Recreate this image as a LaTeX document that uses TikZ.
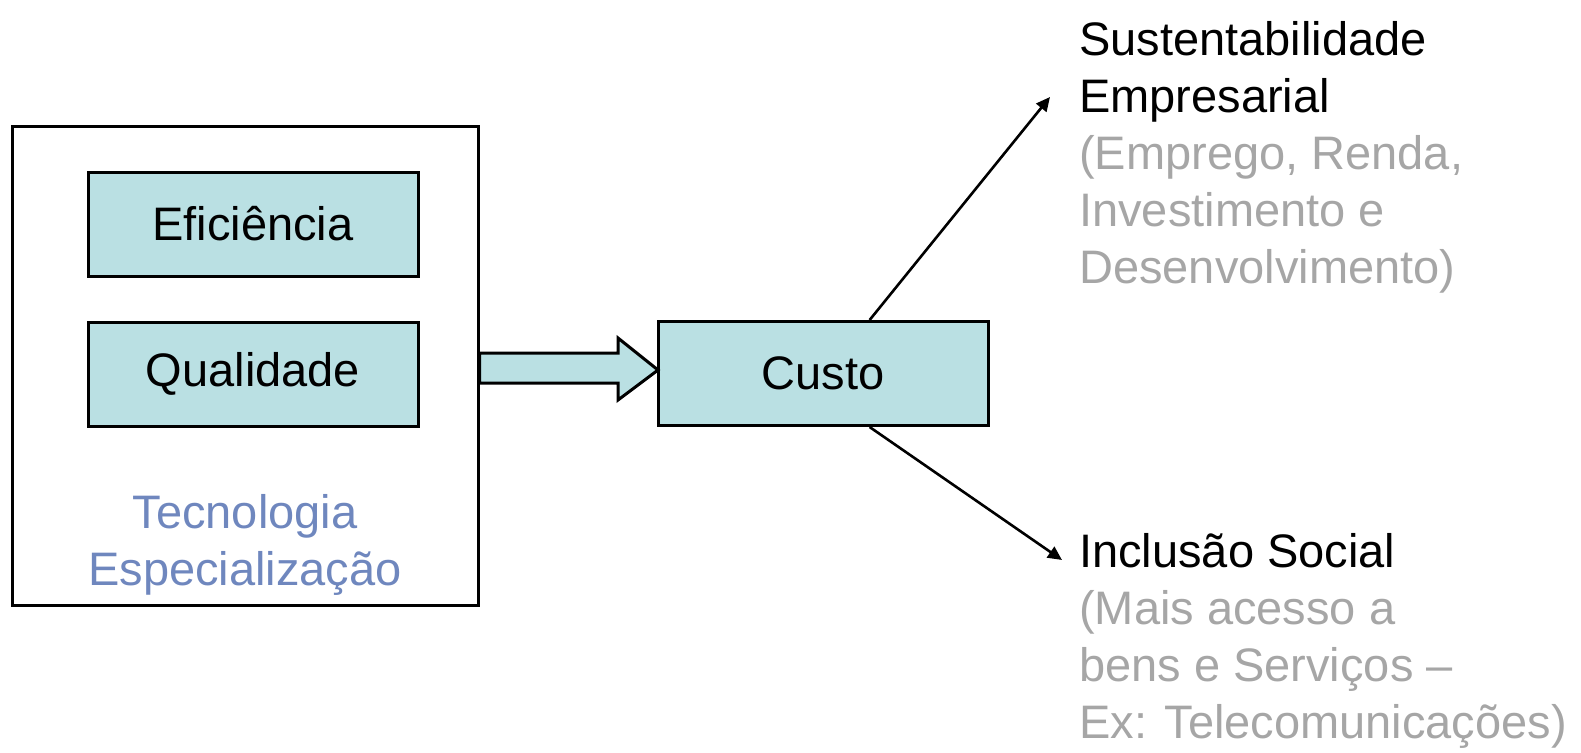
\documentclass[tikz,border=0pt]{standalone}
\usepackage{fontspec}
\setmainfont{Liberation Sans}
\usetikzlibrary{arrows.meta,calc}
\definecolor{boxfill}{HTML}{BAE0E3}
\definecolor{techblue}{HTML}{6F87BE}
\definecolor{txtgray}{HTML}{A6A6A6}
\begin{document}
\begin{tikzpicture}[x=1pt,y=-1pt,
  every node/.style={font=\fontsize{47}{57}\selectfont, inner sep=0pt},
  cbox/.style={draw, line width=3pt, fill=boxfill, minimum width=330pt, minimum height=104pt},
  link/.style={line width=2.6pt, -{Triangle[length=14pt,width=13pt]}},
  blockarrow/.style={draw, line width=3pt, fill=boxfill, line join=miter}]
\useasboundingbox (0,0) rectangle (1581,752);
\node[draw, line width=3pt, minimum width=466pt, minimum height=479pt] (outer) at (245,365.5) {};
\node[cbox] (efic) at (253,224) {Eficiência};
\node[cbox] (qual) at (253,374) {Qualidade};
\node[cbox] (custo) at (823,373.5) {Custo};
\node[text=techblue, align=center, anchor=north] (tec) at (245,494) {Tecnologia\\Especialização};
\coordinate (shaftTop) at (0,353);
\coordinate (shaftBot) at (0,383);
\coordinate (arrowTip) at (658,370);
\draw[blockarrow] (outer.east |- shaftTop) -- (618,353) -- (618,338) -- (arrowTip)
  -- (618,400) -- (618,383) -- (outer.east |- shaftBot) -- cycle;
\coordinate (sustTip) at (1050,97);
\coordinate (inclTip) at (1062,560);
\draw[link] ($(custo.north west)!0.64!(custo.north east)$) -- (sustTip);
\draw[link] ($(custo.south west)!0.64!(custo.south east)$) -- (inclTip);
\node[anchor=north west, align=left] (sust) at (1079,21) {Sustentabilidade\\Empresarial\\\textcolor{txtgray}{(Emprego, Renda,}\\\textcolor{txtgray}{Investimento e}\\\textcolor{txtgray}{Desenvolvimento)}};
\node[anchor=north west, align=left] (incl) at (1079,533) {Inclusão Social\\\textcolor{txtgray}{(Mais acesso a}\\\textcolor{txtgray}{bens e Serviços –}\\\textcolor{txtgray}{Ex: Telecomunicações)}};
\end{tikzpicture}
\end{document}
